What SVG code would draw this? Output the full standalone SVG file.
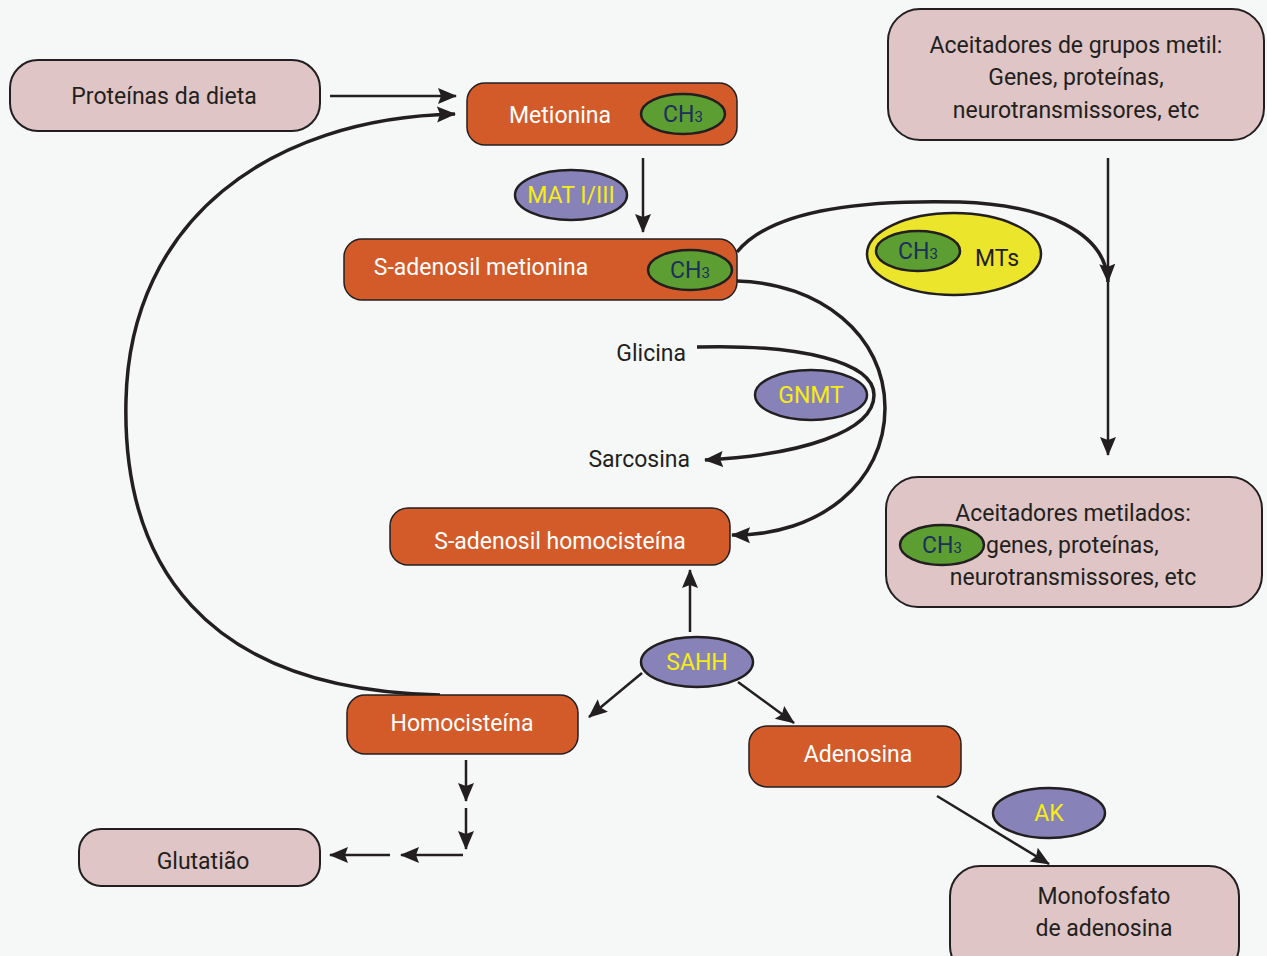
<svg xmlns="http://www.w3.org/2000/svg" width="1267" height="956" viewBox="0 0 1267 956">
<style>
.bg{fill:#f6f8f8}
.pink{fill:#dfc5c5;stroke:#231f20;stroke-width:2}
.orange{fill:#d35a29;stroke:#231f20;stroke-width:1.5}
.green{fill:#5c9e32;stroke:#231f20;stroke-width:2.5}
.enz{fill:#8783b8;stroke:#231f20;stroke-width:2.5}
.yel{fill:#ebe52c;stroke:#231f20;stroke-width:2.5}
text{font-family:Roboto,"Liberation Sans",sans-serif;font-size:23px;text-anchor:middle}
text.st{text-anchor:start}
text.en{text-anchor:end}
.dk{fill:#231f20}
.wh{fill:#ffffff}
.ch{fill:#1c2e5c}
.ye{fill:#f7ec13}
.ln{fill:none;stroke:#231f20;stroke-width:2.5}
.cv{fill:none;stroke:#231f20;stroke-width:3.5}
</style>
<defs>
<marker id="ah" markerUnits="userSpaceOnUse" markerWidth="22" markerHeight="18" refX="18" refY="8" orient="auto" viewBox="0 0 22 16">
<path d="M0,0 L19,8 L0,16 L3,8 z" fill="#231f20"/>
</marker>
</defs>
<rect class="bg" x="0" y="0" width="1267" height="956"/>

<g id="connectors">
<path class="ln" d="M330,96 L456,96" marker-end="url(#ah)"/>
<path class="cv" d="M440,695 C200,690 122,560 126,400 C130,220 270,118 455,114" marker-end="url(#ah)"/>
<path class="ln" d="M643,158 L643,232" marker-end="url(#ah)"/>
<path class="cv" d="M737,252 C775,205 880,200 960,202 C1045,205 1106,232 1108,282" marker-end="url(#ah)"/>
<path class="ln" d="M1108,158 L1108,455" marker-end="url(#ah)"/>
<path class="cv" d="M737,281 C820,283 885,335 885,408 C885,482 820,536 732,535" marker-end="url(#ah)"/>
<path class="cv" d="M697,347 C800,344 874,362 874,395 C874,432 800,455 705,460" marker-end="url(#ah)"/>
<path class="ln" d="M690,632 L690,570" marker-end="url(#ah)"/>
<path class="ln" d="M642,673 L589,717" marker-end="url(#ah)"/>
<path class="ln" d="M738,682 L794,723" marker-end="url(#ah)"/>
<path class="ln" d="M937,796 L1049,864" marker-end="url(#ah)"/>
<path class="ln" d="M466,760 L466,801" marker-end="url(#ah)"/>
<path class="ln" d="M466,808 L466,849" marker-end="url(#ah)"/>
<path class="ln" d="M463,855 L401,855" marker-end="url(#ah)"/>
<path class="ln" d="M390,855 L330,855" marker-end="url(#ah)"/>
</g>

<g id="proteinas">
<rect class="pink" x="10" y="60" width="310" height="71" rx="28"/>
<text class="dk" x="164" y="104">Proteínas da dieta</text>
</g>

<g id="metionina">
<rect class="orange" x="467" y="83" width="270" height="62" rx="18"/>
<text class="wh" x="560" y="123">Metionina</text>
<ellipse class="green" cx="683" cy="114" rx="42" ry="20"/>
<text class="ch" x="683" y="122">CH<tspan font-size="15">3</tspan></text>
</g>

<g id="mat">
<ellipse class="enz" cx="571" cy="195" rx="56" ry="25"/>
<text class="ye" x="571" y="203">MAT I/III</text>
</g>

<g id="sam">
<rect class="orange" x="344" y="239" width="393" height="61" rx="18"/>
<text class="wh" x="481" y="275">S-adenosil metionina</text>
<ellipse class="green" cx="690" cy="270" rx="42" ry="20"/>
<text class="ch" x="690" y="278">CH<tspan font-size="15">3</tspan></text>
</g>

<g id="mts">
<ellipse class="yel" cx="954" cy="254" rx="87" ry="41"/>
<ellipse class="green" cx="918" cy="251" rx="42" ry="20"/>
<text class="ch" x="918" y="259">CH<tspan font-size="15">3</tspan></text>
<text class="dk" x="997" y="266" font-size="24">MTs</text>
</g>

<g id="aceitadores">
<rect class="pink" x="888" y="9" width="376" height="131" rx="32"/>
<text class="dk" x="1076" y="53">Aceitadores de grupos metil:</text>
<text class="dk" x="1076" y="85">Genes, proteínas,</text>
<text class="dk" x="1076" y="118">neurotransmissores, etc</text>
</g>

<g id="metilados">
<rect class="pink" x="886" y="477" width="376" height="130" rx="32"/>
<text class="dk" x="1073" y="521">Aceitadores metilados:</text>
<text class="dk st" x="986" y="553">genes, proteínas,</text>
<text class="dk" x="1073" y="585">neurotransmissores, etc</text>
<ellipse class="green" cx="942" cy="545" rx="42" ry="20"/>
<text class="ch" x="942" y="553">CH<tspan font-size="15">3</tspan></text>
</g>

<g id="glicina">
<text class="dk en" x="686" y="361">Glicina</text>
</g>
<g id="sarcosina">
<text class="dk en" x="690" y="467">Sarcosina</text>
</g>
<g id="gnmt">
<ellipse class="enz" cx="811" cy="395" rx="56" ry="25"/>
<text class="ye" x="811" y="403">GNMT</text>
</g>

<g id="sah">
<rect class="orange" x="390" y="508" width="340" height="57" rx="18"/>
<text class="wh" x="560" y="549">S-adenosil homocisteína</text>
</g>

<g id="sahh">
<ellipse class="enz" cx="697" cy="662" rx="56" ry="25"/>
<text class="ye" x="697" y="670">SAHH</text>
</g>

<g id="homocisteina">
<rect class="orange" x="347" y="695" width="231" height="59" rx="18"/>
<text class="wh" x="462" y="731">Homocisteína</text>
</g>

<g id="adenosina">
<rect class="orange" x="749" y="726" width="212" height="61" rx="18"/>
<text class="wh" x="858" y="762">Adenosina</text>
</g>

<g id="ak">
<ellipse class="enz" cx="1049" cy="813" rx="56" ry="25"/>
<text class="ye" x="1049" y="821">AK</text>
</g>

<g id="amp">
<rect class="pink" x="950" y="866" width="289" height="110" rx="30"/>
<text class="dk" x="1104" y="904">Monofosfato</text>
<text class="dk" x="1104" y="936">de adenosina</text>
</g>

<g id="glutatiao">
<rect class="pink" x="79" y="829" width="241" height="57" rx="22"/>
<text class="dk" x="203" y="869">Glutatião</text>
</g>
</svg>
